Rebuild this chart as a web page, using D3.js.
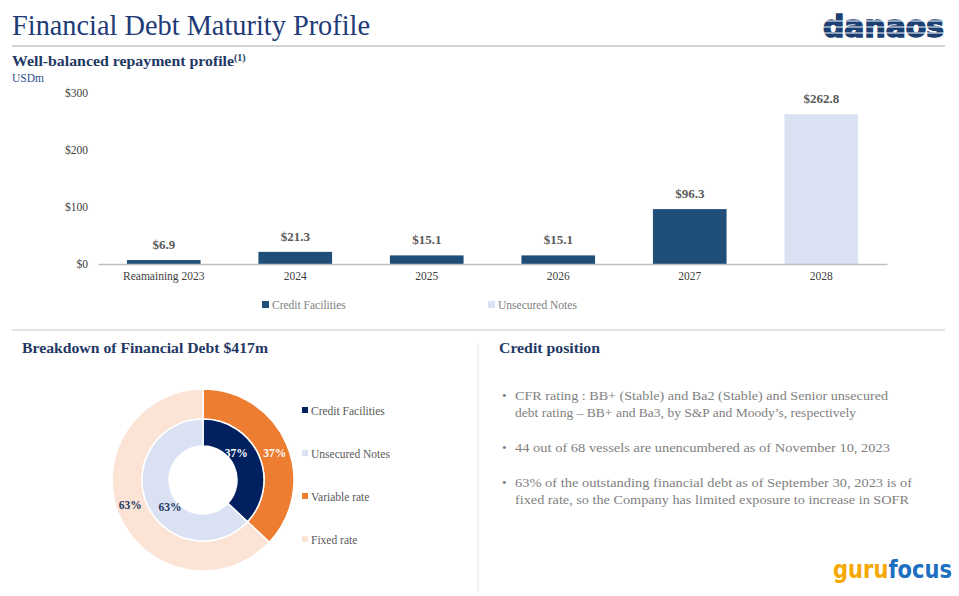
<!DOCTYPE html>
<html><head><meta charset="utf-8">
<script src="https://cdn.jsdelivr.net/npm/d3@7"></script>
<style>
html,body{margin:0;padding:0;background:#fff;}
svg{display:block;font-family:"Liberation Serif","DejaVu Serif",serif;}
</style></head>
<body>
<svg id="chart" width="959" height="596"></svg>
<script>
// ---- data ----
const categories = ["Reamaining 2023","2024","2025","2026","2027","2028"];
const values = [6.9, 21.3, 15.1, 15.1, 96.3, 262.8];
const barSeries = ["Credit Facilities","Credit Facilities","Credit Facilities","Credit Facilities","Credit Facilities","Unsecured Notes"];
const seriesNames = ["Credit Facilities","Unsecured Notes"];
const yTicks = [0, 100, 200, 300];
const debtTypes = ["Credit Facilities","Unsecured Notes"];
const debtShares = [37, 63];
const rateTypes = ["Variable rate","Fixed rate"];
const rateShares = [37, 63];
const bullets = [
  ["CFR rating : BB+ (Stable) and Ba2 (Stable) and Senior unsecured","debt rating \u2013 BB+ and Ba3, by S&P and Moody\u2019s, respectively"],
  ["44 out of 68 vessels are unencumbered as of November 10, 2023"],
  ["63% of the outstanding financial debt as of September 30, 2023 is of","fixed rate, so the Company has limited exposure to increase in SOFR"]
];

const colors = {"Credit Facilities":"#1f4e79","Unsecured Notes":"#dae1f3"};
const donutColors = {"Credit Facilities":"#002060","Unsecured Notes":"#dae1f3","Variable rate":"#ed7d31","Fixed rate":"#fbe4d6"};
const navy = "#1f3864";

const svg = d3.select("#chart");

// ---- header ----
svg.append("text").attr("x",12).attr("y",35).attr("font-size",30).attr("fill","#213b77")
  .attr("textLength",358).attr("lengthAdjust","spacingAndGlyphs")
  .text("Financial Debt Maturity Profile");
svg.append("line").attr("x1",12).attr("x2",945).attr("y1",46).attr("y2",46).attr("stroke","#a6a6a6").attr("stroke-width",1);

// danaos logo
const logo = svg.append("g");
logo.append("text").attr("x",823).attr("y",37).attr("font-family","DejaVu Sans").attr("font-weight","bold")
  .attr("font-size",31).attr("fill","#1b3f73").attr("stroke","#1b3f73").attr("stroke-width",1.6)
  .attr("textLength",121).attr("lengthAdjust","spacingAndGlyphs")
  .text("danaos");
[21,27,33].forEach(y=>logo.append("line").attr("x1",818).attr("x2",950).attr("y1",y).attr("y2",y).attr("stroke","#fff").attr("stroke-width",1));

const sub = svg.append("text").attr("x",12).attr("y",66).attr("font-size",15.5).attr("font-weight","bold").attr("fill",navy);
sub.append("tspan").attr("textLength",222).attr("lengthAdjust","spacingAndGlyphs").text("Well-balanced repayment profile");
sub.append("tspan").attr("font-size",10).attr("dy",-5).text("(1)");
svg.append("text").attr("x",12).attr("y",82).attr("font-size",11.5).attr("fill","#2e4f8f").text("USDm");

// ---- bar chart ----
const x = d3.scaleBand().domain(categories).range([98, 887]).paddingInner(0.44).paddingOuter(0.22);
const y = d3.scaleLinear().domain([0, 300]).range([264, 93]);

const yAxis = svg.append("g").attr("transform","translate(88,0)")
  .call(d3.axisLeft(y).tickValues(yTicks).tickSize(0).tickPadding(0).tickFormat(d=>"$"+d));
yAxis.select(".domain").remove();
yAxis.selectAll("text").attr("font-family","Liberation Serif").attr("font-size",11.5).attr("fill","#404040");

svg.selectAll("rect.bar").data(values).join("rect").attr("class","bar")
  .attr("x",(d,i)=>x(categories[i])).attr("width",x.bandwidth())
  .attr("y",d=>y(d)).attr("height",d=>y(0)-y(d))
  .attr("fill",(d,i)=>colors[barSeries[i]]);

const xAxis = svg.append("g").attr("transform","translate(0,264)")
  .call(d3.axisBottom(x).tickSize(0).tickPadding(8));
xAxis.select(".domain").attr("stroke","#bfbfbf").attr("stroke-width",1.5);
xAxis.selectAll("text").attr("font-family","Liberation Serif").attr("font-size",11.5).attr("fill","#404040");

svg.selectAll("text.vlab").data(values).join("text").attr("class","vlab")
  .attr("x",(d,i)=>x(categories[i])+x.bandwidth()/2).attr("y",d=>y(d)-11)
  .attr("text-anchor","middle").attr("font-size",13).attr("font-weight","bold").attr("fill","#595959")
  .text(d=>"$"+d.toFixed(1));

// legend
const legX = [262, 488];
seriesNames.forEach((s,i)=>{
  svg.append("rect").attr("x",legX[i]).attr("y",301).attr("width",7).attr("height",7).attr("fill",colors[s]);
  svg.append("text").attr("x",legX[i]+10).attr("y",309).attr("font-size",11.5).attr("fill","#808080").text(s);
});

svg.append("line").attr("x1",12).attr("x2",945).attr("y1",330).attr("y2",330).attr("stroke","#d9d9d9").attr("stroke-width",1.5);
svg.append("line").attr("x1",478).attr("x2",478).attr("y1",343).attr("y2",592).attr("stroke","#e3e3e3").attr("stroke-width",1);

// ---- donut ----
svg.append("text").attr("x",22).attr("y",353).attr("font-size",14.5).attr("font-weight","bold").attr("fill",navy)
  .attr("textLength",246).attr("lengthAdjust","spacingAndGlyphs")
  .text("Breakdown of  Financial Debt $417m");

const cx = 203, cy = 480;
const g = svg.append("g").attr("transform",`translate(${cx},${cy})`);
const pie = d3.pie().sort(null).value(d=>d.v);
const innerArc = d3.arc().innerRadius(34).outerRadius(61);
const outerArc = d3.arc().innerRadius(61).outerRadius(91);
const innerData = pie(debtTypes.map((n,i)=>({n, v:debtShares[i]})));
const outerData = pie(rateTypes.map((n,i)=>({n, v:rateShares[i]})));
g.selectAll("path.o").data(outerData).join("path").attr("class","o").attr("d",outerArc)
  .attr("fill",d=>donutColors[d.data.n]).attr("stroke","#fff").attr("stroke-width",1.5);
g.selectAll("path.i").data(innerData).join("path").attr("class","i").attr("d",innerArc)
  .attr("fill",d=>donutColors[d.data.n]).attr("stroke","#fff").attr("stroke-width",1.5);

const innerLab = d3.arc().innerRadius(47).outerRadius(47);
const outerLab = d3.arc().innerRadius(76).outerRadius(76);
const labOff = [[-10,-8],[10,8]];
const labOffO = [[2,3],[-3,-5]];
g.selectAll("text.il").data(innerData).join("text").attr("class","il")
  .attr("x",(d,i)=>innerLab.centroid(d)[0]+labOff[i][0]).attr("y",(d,i)=>innerLab.centroid(d)[1]+labOff[i][1]+4)
  .attr("text-anchor","middle").attr("font-size",11.5).attr("font-weight","bold")
  .attr("fill",(d,i)=>i===0?"#fff":navy).text(d=>d.data.v+"%");
g.selectAll("text.ol").data(outerData).join("text").attr("class","ol")
  .attr("x",(d,i)=>outerLab.centroid(d)[0]+labOffO[i][0]).attr("y",(d,i)=>outerLab.centroid(d)[1]+labOffO[i][1]+4)
  .attr("text-anchor","middle").attr("font-size",11.5).attr("font-weight","bold")
  .attr("fill",(d,i)=>i===0?"#fff":navy).text(d=>d.data.v+"%");

const dLeg = debtTypes.concat(rateTypes);
dLeg.forEach((n,i)=>{
  const yy = 411 + i*43;
  svg.append("rect").attr("x",302).attr("y",yy-4).attr("width",6).attr("height",6).attr("fill",donutColors[n]);
  svg.append("text").attr("x",311).attr("y",yy+4).attr("font-size",11.5).attr("fill","#595959").text(n);
});

// ---- credit position ----
svg.append("text").attr("x",499).attr("y",353).attr("font-size",15).attr("font-weight","bold").attr("fill",navy)
  .attr("textLength",101).attr("lengthAdjust","spacingAndGlyphs").text("Credit position");
const lineW = [[373,341],[375],[397,394]];
const starts = [400, 452, 487];
bullets.forEach((b,i)=>{
  svg.append("text").attr("x",502).attr("y",starts[i]).attr("font-size",13).attr("fill","#7f7f7f").text("\u2022");
  b.forEach((ln,j)=>{
    svg.append("text").attr("x",515).attr("y",starts[i]+j*17).attr("font-size",13.5).attr("fill","#7f7f7f")
      .attr("textLength",lineW[i][j]).attr("lengthAdjust","spacingAndGlyphs").text(ln);
  });
});

// gurufocus logo (single text, horizontally scaled to fit)
const gg = svg.append("g");
const gl = gg.append("text").attr("x",0).attr("y",0).attr("font-family","DejaVu Sans").attr("font-weight","bold").attr("font-size",25);
gl.append("tspan").attr("fill","#f5a800").text("guru");
gl.append("tspan").attr("fill","#1e6fbf").text("focus");
const natW = gl.node().getComputedTextLength() || 160;
gg.attr("transform",`translate(833,578) scale(${119/natW},1)`);
</script>
</body></html>
